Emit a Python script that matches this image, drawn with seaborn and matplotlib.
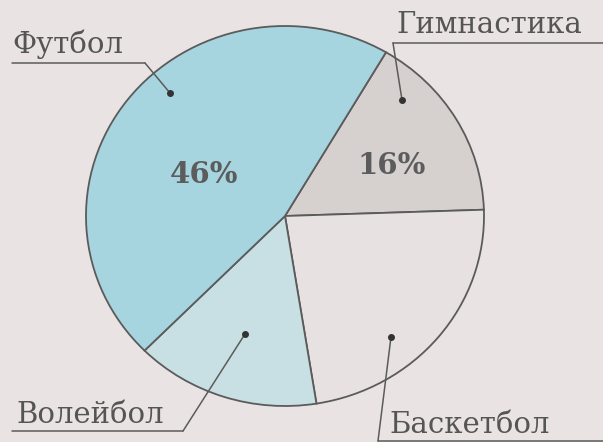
import numpy as np
import pandas as pd
import seaborn as sns
import matplotlib.pyplot as plt

W, H = 603, 442
BG_COLOR = "#e9e4e3"
EDGE_COLOR = "#5b5b5b"
TEXT_COLOR = "#555555"

# clockwise from the top-right boundary
sports = ["Гимнастика", "Баскетбол", "Волейбол", "Футбол"]
shares = [16, 23, 15, 46]
shown_pct = ["16%", "", "", "46%"]
colors = ["#d6d0cf", "#e7e2e1", "#c8e0e3", "#a6d4df"]


def px(x, y):
  # pixel (from top-left) -> figure fraction
  return (x / W, 1 - y / H)


def main():
  df = pd.DataFrame({"sport": sports, "share": shares, "pct": shown_pct})

  sns.set_theme(style="white")
  plt.rcParams["font.family"] = ["DejaVu Serif"]

  fig = plt.figure(figsize=(W / 100, H / 100), dpi=100)
  fig.set_facecolor(BG_COLOR)
  ax = fig.add_axes([0, 0, 1, 1])
  ax.set_facecolor(BG_COLOR)

  ax.pie(df["share"], colors=colors, startangle=59.5, counterclock=False,
         wedgeprops=dict(edgecolor=EDGE_COLOR, linewidth=1.3))

  # pie slightly wider than tall, like the scan
  cx, cy, rx, ry = 285, 216, 199, 190
  ax.set_aspect("auto")
  ax.set_xlim(-cx / rx, (W - cx) / rx)
  ax.set_ylim(-(H - cy) / ry, cy / ry)
  ax.axis("off")

  # percentage labels
  pct_pos = {"Футбол": (204, 175), "Гимнастика": (392, 166)}
  for _, row in df.iterrows():
    if row["pct"]:
      fig.text(*px(*pct_pos[row["sport"]]), row["pct"], fontsize=21,
               fontweight="bold", color="#5c5c5c", ha="center", va="center")

  # names with underline and leader to a dot
  lab = {
      "Футбол": dict(text=(12, 53), ul=(12, 145, 63), dot=(170, 93)),
      "Гимнастика": dict(text=(396, 33), ul=(393, 603, 43), dot=(402, 100)),
      "Волейбол": dict(text=(16, 423), ul=(12, 183, 431), dot=(245, 334)),
      "Баскетбол": dict(text=(389, 433), ul=(378, 603, 441), dot=(391, 337)),
  }
  for name in df["sport"]:
    p = lab[name]
    fig.text(*px(*p["text"]), name, fontsize=21, color=TEXT_COLOR,
             ha="left", va="baseline")
    x0, x1, yu = p["ul"]
    fig.add_artist(plt.Line2D([x0 / W, x1 / W], [1 - yu / H, 1 - yu / H],
                              color=EDGE_COLOR, lw=1.1))
    start = (x1, yu) if name in ("Футбол", "Волейбол") else (x0, yu)
    sx, sy = px(*start)
    dx, dy = px(*p["dot"])
    fig.add_artist(plt.Line2D([sx, dx], [sy, dy], color=EDGE_COLOR, lw=1.1))
    fig.add_artist(plt.Line2D([dx], [dy], marker="o", markersize=4,
                              color="#333333"))

  plt.savefig("out.png", dpi=100, facecolor=BG_COLOR)


if __name__ == "__main__":
  main()
